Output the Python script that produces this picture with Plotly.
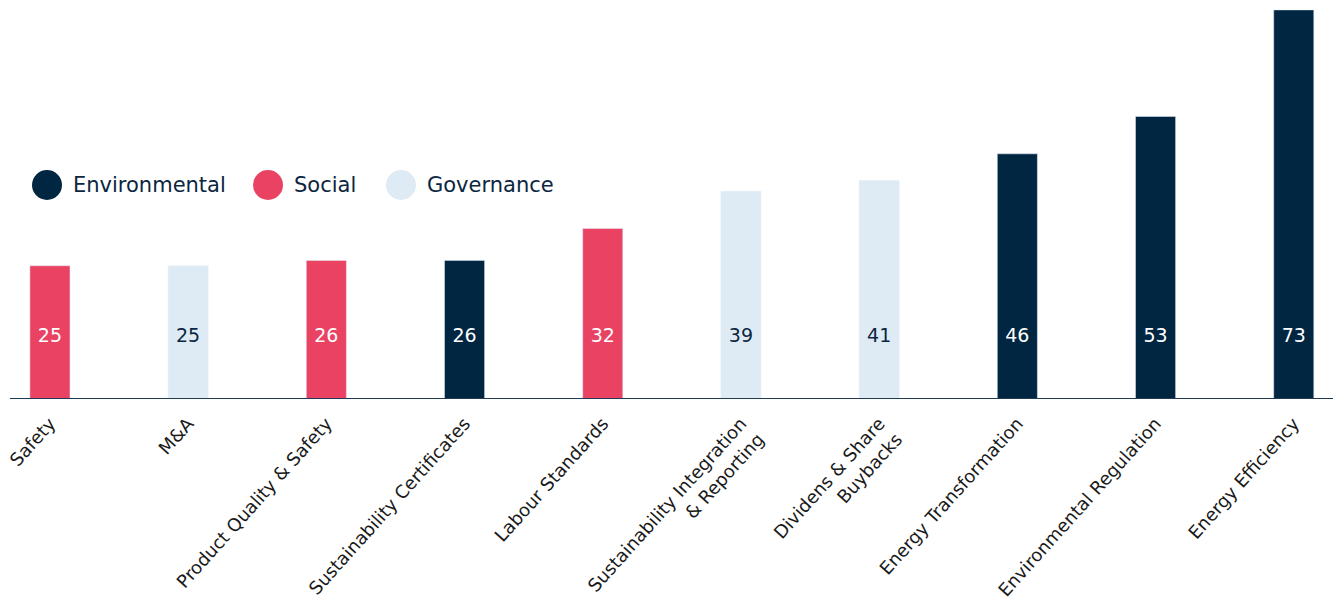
import plotly.graph_objects as go

categories = ["Safety", "M&A", "Product Quality & Safety", "Sustainability Certificates",
              "Labour Standards", "Sustainability Integration<br>& Reporting",
              "Dividens & Share<br>Buybacks", "Energy Transformation",
              "Environmental Regulation", "Energy Efficiency"]
values = [25, 25, 26, 26, 32, 39, 41, 46, 53, 73]
pillars = ["Social", "Governance", "Social", "Environmental", "Social",
           "Governance", "Governance", "Environmental", "Environmental", "Environmental"]
legend_names = ["Environmental", "Social", "Governance"]

colors = {"Environmental": "#002642", "Social": "#e94263", "Governance": "#deebf4"}
text_colors = {"Environmental": "#ffffff", "Social": "#ffffff", "Governance": "#0b2640"}
NAVY = "#0b2640"

fig = go.Figure()
xs = list(range(len(categories)))
for p in legend_names:
    idx = [i for i in xs if pillars[i] == p]
    fig.add_trace(go.Bar(
        x=[xs[i] for i in idx], y=[values[i] for i in idx],
        marker_color=colors[p], width=0.29, name=p, showlegend=False,
        hoverinfo="skip"))

# value labels inside bars at a fixed height
fig.add_trace(go.Scatter(
    x=xs, y=[11.6] * len(xs), mode="text", text=[str(v) for v in values],
    textfont=dict(size=19, family="DejaVu Sans", color=[text_colors[p] for p in pillars]),
    showlegend=False, hoverinfo="skip"))

# manual legend with large circles
W, H = 1323, 399
legend_pos = [(47, 185), (268, 185), (401, 185)]
r = 15
for name, (cx, cy) in zip(legend_names, legend_pos):
    px = cx - 10
    py = 399 - cy
    fig.add_shape(type="circle", xref="paper", yref="paper",
                  x0=(px - r) / W, x1=(px + r) / W, y0=(py - r) / H, y1=(py + r) / H,
                  fillcolor=colors[name], line=dict(width=0))
    fig.add_annotation(xref="paper", yref="paper", x=(px + r + 9) / W, y=py / H,
                       text=name, showarrow=False, xanchor="left", yanchor="middle",
                       font=dict(size=21, family="DejaVu Sans", color=NAVY))

fig.update_layout(
    width=1333, height=616,
    margin=dict(l=10, r=0, t=0, b=217),
    paper_bgcolor="white", plot_bgcolor="white",
    barmode="overlay",
    xaxis=dict(range=[-0.289, 9.284], tickvals=xs, ticktext=categories, tickangle=-48,
               tickfont=dict(size=18, family="DejaVu Sans", color="#1a1a1a"),
               showgrid=False, zeroline=False, showline=False,
               ticks="outside", ticklen=6, tickcolor="rgba(0,0,0,0)"),
    yaxis=dict(range=[0, 74.86], visible=False, showgrid=False, zeroline=False),
)
fig.add_shape(type="line", xref="paper", yref="y", x0=0, x1=1, y0=0, y1=0,
              line=dict(color="#1f3a52", width=2))

fig.write_html("out.html")
